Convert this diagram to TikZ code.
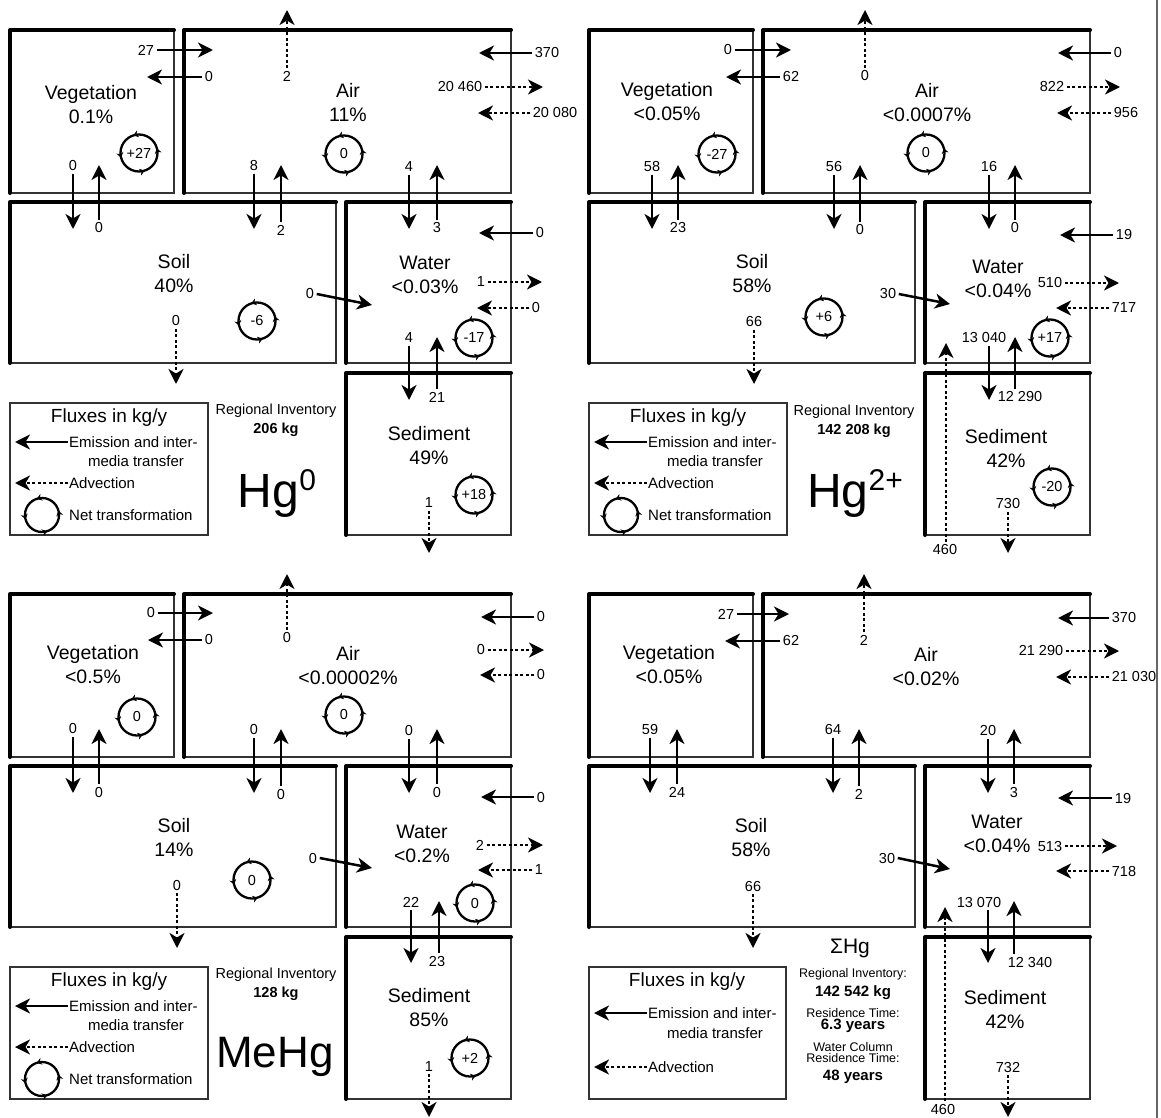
\documentclass[tikz,border=0pt]{standalone}
\usepackage{fontspec}
\setmainfont{Liberation Sans}
\usetikzlibrary{arrows.meta,decorations.markings}

\tikzset{
  cbox/.style={draw=black!80, line width=1.2pt},
  heavy/.style={line width=4pt, line cap=round, line join=round},
  num/.style={font=\fontsize{14.5}{15}\selectfont, inner sep=2.5pt},
  medium/.style={font=\fontsize{19.5}{24}\selectfont, align=center, inner sep=0pt},
  flux/.style={line width=2.5pt, -{Stealth[length=15pt, width=15pt, inset=4.5pt]}},
  adv/.style={flux, dash pattern=on 3pt off 2.5pt},
  trans/.style={circle, draw, line width=2.3pt, minimum size=37pt, inner sep=0pt,
    font=\fontsize{14.5}{15}\selectfont, postaction={decorate},
    decoration={markings,
      mark=at position 0.04 with {\arrow{Stealth[length=5pt, width=7pt]}},
      mark=at position 0.3 with {\arrow{Stealth[length=5pt, width=7pt]}},
      mark=at position 0.54 with {\arrow{Stealth[length=5pt, width=7pt]}},
      mark=at position 0.8 with {\arrow{Stealth[length=5pt, width=7pt]}}}},
  legbig/.style={font=\fontsize{19}{20}\selectfont},
  legsmall/.style={font=\fontsize{15}{16}\selectfont, inner sep=1pt},
  inv/.style={font=\fontsize{14.5}{19}\selectfont, align=center},
  sinv/.style={font=\fontsize{12.5}{12.5}\selectfont, inner sep=0pt},
  binv/.style={font=\fontsize{15}{15}\bfseries\selectfont, inner sep=0pt},
  species/.style={font=\fontsize{48}{48}\selectfont, anchor=base, inner sep=0pt},
}

% compartment box: thick top and left edges
\newcommand\compartment[4]{%
  \draw[cbox] (#1,#2) rectangle (#3,#4);
  \draw[heavy] (#1,#4) -- (#1,#2) -- (#3,#2);}

% flux: label node, arrow from label to its end point
\newcommand\hflux[6][flux]{%
  \node[num] (#2) at (#3) {#4};
  \coordinate (#2-end) at (#6);
  \draw[#1] (#2.#5) -- (#2-end);}
\newcommand\vflux[6][flux]{%
  \node[num] (#2) at (#3) {#4};
  \coordinate (#2-end) at (#6);
  \draw[#1] (#2.#5 -| #2-end) -- (#2-end);}

% legend box of the species panels
\newcommand\fluxlegend{%
  \draw[cbox] (10,403) rectangle (208,535);
  \node[legbig] (legtitle) at (109,418) {Fluxes in kg/y};
  \node[legsmall, anchor=west] (legemis) at (68,442) {Emission and inter-};
  \node[legsmall] (legmedia) at (136,461) {media transfer};
  \node[legsmall, anchor=west] (legadv) at (68,483) {Advection};
  \node[legsmall, anchor=west] (legnet) at (68,515) {Net transformation};
  \coordinate (legemis-end) at (15,442);
  \coordinate (legadv-end) at (15,483);
  \draw[flux] (legemis.west) -- (legemis-end);
  \draw[adv] (legadv.west) -- (legadv-end);
  \node[trans, minimum size=34pt] (legcycle) at (42,515) {};}

\begin{document}
\begin{tikzpicture}[x=1pt, y=-1pt]
\useasboundingbox (0,0) rectangle (1161,1118);

% Separator
\draw[black!60, line width=1.5pt] (1157,0) -- (1157,1118);

%%% Hg0
\begin{scope}[name prefix=hg0-]
  % Compartments
  \compartment{10}{30}{174}{193}
  \compartment{184}{30}{511}{193}
  \compartment{10}{202}{336}{363}
  \compartment{346}{202}{511}{363}
  \compartment{346}{373}{511}{535}
  \node[medium] (veg) at (91,105) {Vegetation\\0.1\%};
  \node[medium] (air) at (348,102) {Air\\11\%};
  \node[medium] (soil) at (174,274) {Soil\\40\%};
  \node[medium] (water) at (425,275) {Water\\<0.03\%};
  \node[medium] (sed) at (429,446) {Sediment\\49\%};
  % Net transformation
  \node[trans] (tveg) at (139,153) {+27};
  \node[trans] (tair) at (344,154) {0};
  \node[trans] (tsoil) at (257,321) {-6};
  \node[trans] (twat) at (474,338) {-17};
  \node[trans] (tsed) at (474,495) {+18};
  % Fluxes
  \hflux{vegair}{146,50}{27}{east}{213,50}
  \hflux{airveg}{209,77}{0}{west}{147,77}
  \vflux[adv]{airout}{287,76}{2}{north}{287,10}
  \hflux{inair}{547,53}{370}{west}{479,53}
  \hflux[adv]{outair}{460,87}{20 460}{east}{543,87}
  \hflux[adv]{advair}{555,113}{20 080}{west}{478,113}
  \vflux{vegsoil}{73,166}{0}{south}{73,229}
  \vflux{soilveg}{99,228}{0}{north}{99,165}
  \vflux{airsoil}{254,166}{8}{south}{254,229}
  \vflux{soilair}{281,230}{2}{north}{281,165}
  \vflux{airwat}{409,167}{4}{south}{409,229}
  \vflux{watair}{437,228}{3}{north}{437,165}
  \hflux{inwat}{540,233}{0}{west}{479,233}
  \hflux[adv]{outwat}{481,282}{1}{east}{542,282}
  \hflux[adv]{advwat}{536,308}{0}{west}{477,308}
  \hflux{soilwat}{310,294}{0}{east}{372,305}
  \vflux[adv]{soilout}{176,321}{0}{south}{176,384}
  \vflux{watsed}{409,338}{4}{south}{409,400}
  \vflux{sedwat}{437,397}{21}{north}{437,337}
  \vflux[adv]{sedout}{429,503}{1}{south}{429,553}
  % Legend and inventory
  \fluxlegend
  \node[inv] (inv) at (276,420) {Regional Inventory\\\textbf{206 kg}};
  \node[species] (spec) at (277,507) {Hg{\fontsize{30}{30}\selectfont\raisebox{17pt}{0}}};
\end{scope}

%%% Hg2+
\begin{scope}[shift={(579,0)}, name prefix=hg2-]
  % Compartments
  \compartment{10}{30}{174}{193}
  \compartment{184}{30}{511}{193}
  \compartment{10}{202}{336}{363}
  \compartment{346}{202}{511}{363}
  \compartment{346}{373}{511}{535}
  \node[medium] (veg) at (88,102) {Vegetation\\<0.05\%};
  \node[medium] (air) at (348,103) {Air\\<0.0007\%};
  \node[medium] (soil) at (173,274) {Soil\\58\%};
  \node[medium] (water) at (419,279) {Water\\<0.04\%};
  \node[medium] (sed) at (427,448) {Sediment\\42\%};
  % Net transformation
  \node[trans] (tveg) at (138,154) {-27};
  \node[trans] (tair) at (347,153) {0};
  \node[trans] (tsoil) at (245,317) {+6};
  \node[trans] (twat) at (471,338) {+17};
  \node[trans] (tsed) at (473,487) {-20};
  % Fluxes
  \hflux{vegair}{149,50}{0}{east}{212,50}
  \hflux{airveg}{212,77}{62}{west}{147,77}
  \vflux[adv]{airout}{286,76}{0}{north}{286,10}
  \hflux{inair}{539,53}{0}{west}{479,53}
  \hflux[adv]{outair}{473,87}{822}{east}{541,87}
  \hflux[adv]{advair}{547,113}{956}{west}{478,113}
  \vflux{vegsoil}{73,167}{58}{south}{73,229}
  \vflux{soilveg}{99,228}{23}{north}{99,165}
  \vflux{airsoil}{255,167}{56}{south}{255,229}
  \vflux{soilair}{281,230}{0}{north}{281,165}
  \vflux{airwat}{410,167}{16}{south}{410,229}
  \vflux{watair}{436,228}{0}{north}{436,165}
  \hflux{inwat}{545,235}{19}{west}{481,235}
  \hflux[adv]{outwat}{471,283}{510}{east}{540,283}
  \hflux[adv]{advwat}{545,308}{717}{west}{477,308}
  \hflux{soilwat}{309,294}{30}{east}{371,304}
  \vflux[adv]{soilout}{175,322}{66}{south}{175,384}
  \vflux{watsed}{405,338}{13 040}{south}{410,400}
  \vflux{sedwat}{441,397}{12 290}{north}{436,337}
  \vflux[adv]{sedout}{429,504}{730}{south}{429,553}
  \vflux[adv]{inflow}{366,550}{460}{north}{367,343}
  % Legend and inventory
  \fluxlegend
  \node[inv] (inv) at (275,421) {Regional Inventory\\\textbf{142 208 kg}};
  \node[species] (spec) at (276,507) {Hg{\fontsize{30}{30}\selectfont\raisebox{17pt}{2+}}};
\end{scope}

%%% MeHg
\begin{scope}[shift={(0,564)}, name prefix=mehg-]
  % Compartments
  \compartment{10}{30}{174}{193}
  \compartment{184}{30}{511}{193}
  \compartment{10}{202}{336}{363}
  \compartment{346}{202}{511}{363}
  \compartment{346}{373}{511}{535}
  \node[medium] (veg) at (93,101) {Vegetation\\<0.5\%};
  \node[medium] (air) at (348,102) {Air\\<0.00002\%};
  \node[medium] (soil) at (174,273) {Soil\\14\%};
  \node[medium] (water) at (422,280) {Water\\<0.2\%};
  \node[medium] (sed) at (429,444) {Sediment\\85\%};
  % Net transformation
  \node[trans] (tveg) at (137,153) {0};
  \node[trans] (tair) at (344,151) {0};
  \node[trans] (tsoil) at (252,316) {0};
  \node[trans] (twat) at (475,339) {0};
  \node[trans] (tsed) at (470,494) {+2};
  % Fluxes
  \hflux{vegair}{151,49}{0}{east}{213,49}
  \hflux{airveg}{209,76}{0}{west}{148,76}
  \vflux[adv]{airout}{287,74}{0}{north}{287,10}
  \hflux{inair}{541,53}{0}{west}{481,53}
  \hflux[adv]{outair}{481,86}{0}{east}{544,86}
  \hflux[adv]{advair}{541,111}{0}{west}{480,111}
  \vflux{vegsoil}{73,165}{0}{south}{73,229}
  \vflux{soilveg}{99,228}{0}{north}{99,165}
  \vflux{airsoil}{254,166}{0}{south}{254,229}
  \vflux{soilair}{281,230}{0}{north}{281,165}
  \vflux{airwat}{409,167}{0}{south}{409,229}
  \vflux{watair}{437,228}{0}{north}{437,165}
  \hflux{inwat}{541,233}{0}{west}{481,233}
  \hflux[adv]{outwat}{480,281}{2}{east}{543,281}
  \hflux[adv]{advwat}{539,306}{1}{west}{478,306}
  \hflux{soilwat}{313,294}{0}{east}{372,304}
  \vflux[adv]{soilout}{177,321}{0}{south}{177,384}
  \vflux{watsed}{411,338}{22}{south}{411,399}
  \vflux{sedwat}{437,397}{23}{north}{439,337}
  \vflux[adv]{sedout}{429,502}{1}{south}{429,553}
  % Legend and inventory
  \fluxlegend
  \node[inv] (inv) at (276,420) {Regional Inventory\\\textbf{128 kg}};
  \node[species, font=\fontsize{44}{44}\selectfont] (spec) at (275,503) {MeHg};
\end{scope}

%%% Total Hg
\begin{scope}[shift={(579,564)}, name prefix=thg-]
  % Compartments
  \compartment{10}{30}{174}{193}
  \compartment{184}{30}{511}{193}
  \compartment{10}{202}{336}{363}
  \compartment{346}{202}{511}{363}
  \compartment{346}{373}{511}{535}
  \node[medium] (veg) at (90,101) {Vegetation\\<0.05\%};
  \node[medium] (air) at (347,103) {Air\\<0.02\%};
  \node[medium] (soil) at (172,274) {Soil\\58\%};
  \node[medium] (water) at (418,270) {Water\\<0.04\%};
  \node[medium] (sed) at (426,445) {Sediment\\42\%};
  % Fluxes
  \hflux{vegair}{147,50}{27}{east}{210,50}
  \hflux{airveg}{212,77}{62}{west}{146,77}
  \vflux[adv]{airout}{285,76}{2}{north}{285,10}
  \hflux{inair}{545,54}{370}{west}{479,54}
  \hflux[adv]{outair}{462,87}{21 290}{east}{540,87}
  \hflux[adv]{advair}{555,113}{21 030}{west}{477,113}
  \vflux{vegsoil}{71,166}{59}{south}{71,229}
  \vflux{soilveg}{98,228}{24}{north}{98,165}
  \vflux{airsoil}{254,166}{64}{south}{254,229}
  \vflux{soilair}{280,230}{2}{north}{280,165}
  \vflux{airwat}{409,167}{20}{south}{409,229}
  \vflux{watair}{435,228}{3}{north}{435,165}
  \hflux{inwat}{544,234}{19}{west}{479,234}
  \hflux[adv]{outwat}{471,282}{513}{east}{538,282}
  \hflux[adv]{advwat}{545,307}{718}{west}{477,307}
  \hflux{soilwat}{308,294}{30}{east}{371,305}
  \vflux[adv]{soilout}{174,322}{66}{south}{174,384}
  \vflux{watsed}{400,338}{13 070}{south}{409,399}
  \vflux{sedwat}{451,398}{12 340}{north}{435,337}
  \vflux[adv]{sedout}{429,503}{732}{south}{429,553}
  \vflux[adv]{inflow}{364,545}{460}{north}{366,343}
  % Legend
  \draw[cbox] (10,403) rectangle (207,535);
  \node[legbig] (legtitle) at (108,418) {Fluxes in kg/y};
  \node[legsmall, anchor=west] (legemis) at (68,449) {Emission and inter-};
  \node[legsmall] (legmedia) at (136,469) {media transfer};
  \node[legsmall, anchor=west] (legadv) at (68,503) {Advection};
  \coordinate (legemis-end) at (15,449);
  \coordinate (legadv-end) at (15,503);
  \draw[flux] (legemis.west) -- (legemis-end);
  \draw[adv] (legadv.west) -- (legadv-end);
  % Inventory
  \node[font=\fontsize{21}{21}\selectfont] (spec) at (271,384) {ΣHg};
  \node[sinv] (inv1) at (274,410) {Regional Inventory:};
  \node[binv] (inv2) at (274,429) {142 542 kg};
  \node[sinv] (inv3) at (274,449) {Residence Time:};
  \node[binv] (inv4) at (274,462) {6.3 years};
  \node[sinv] (inv5) at (274,483) {Water Column};
  \node[sinv] (inv6) at (274,494) {Residence Time:};
  \node[binv] (inv7) at (274,513) {48 years};
\end{scope}
\end{tikzpicture}
\end{document}
